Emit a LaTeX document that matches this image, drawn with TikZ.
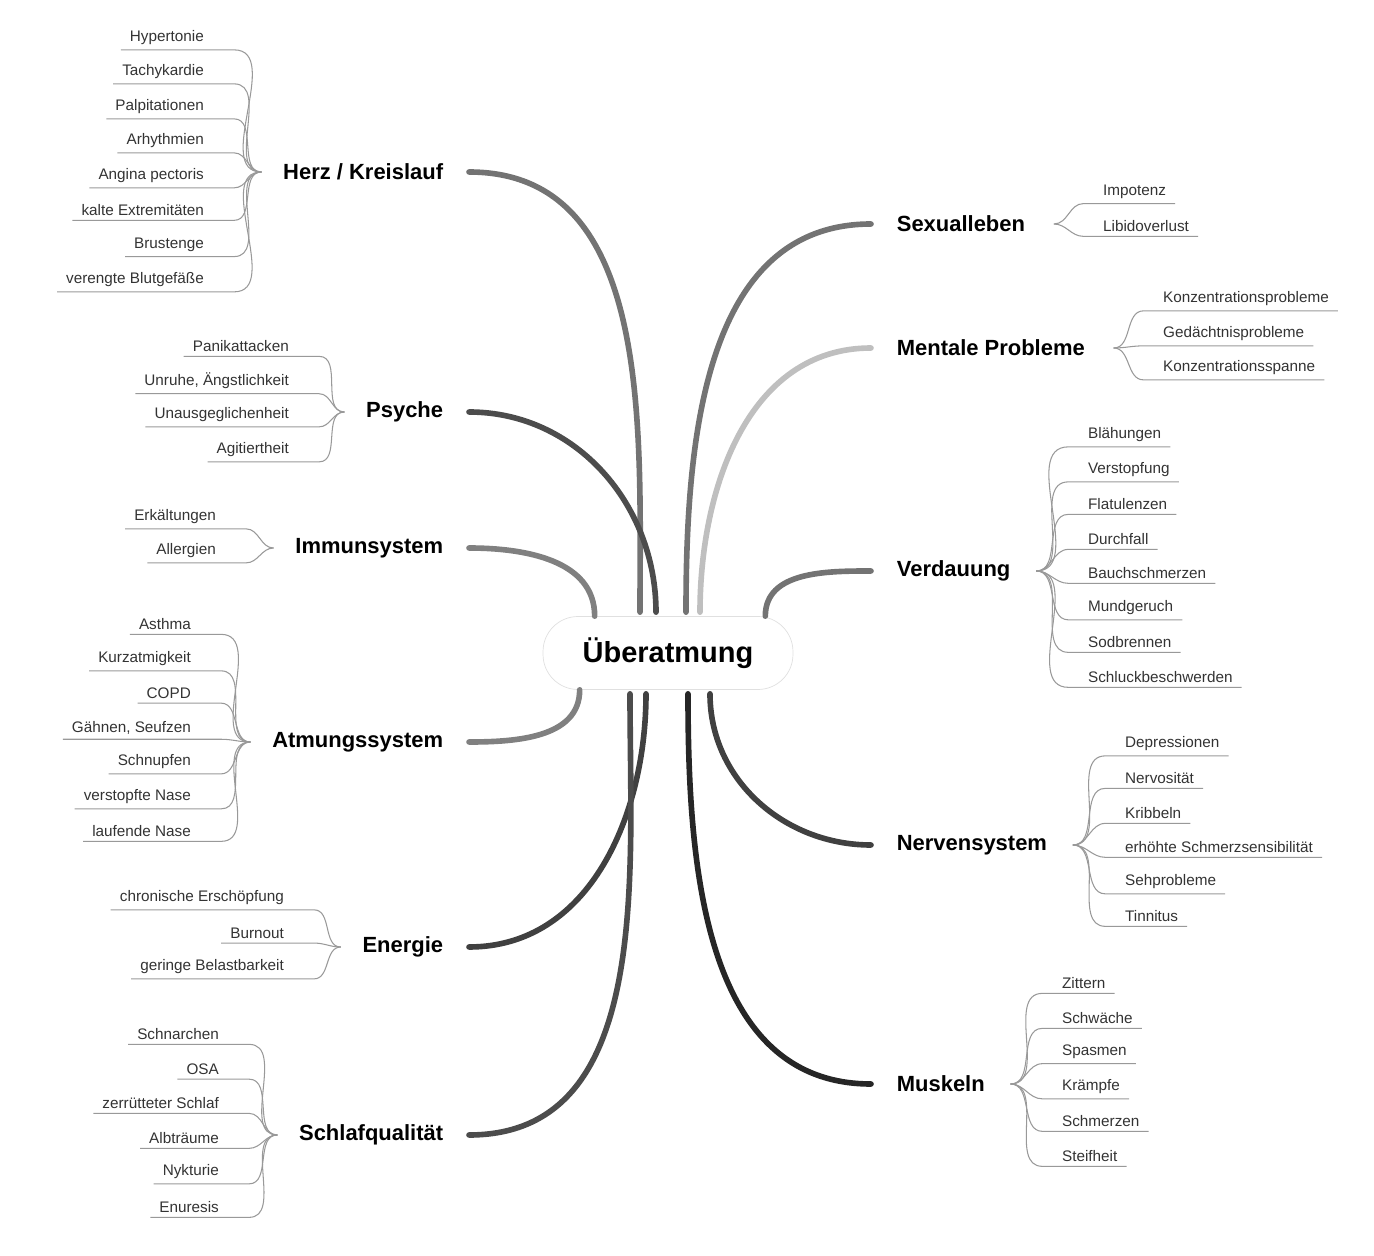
\documentclass[tikz,border=0pt]{standalone}
\usepackage{fontspec}
\setmainfont{Liberation Sans}
\usetikzlibrary{positioning,calc}

\tikzset{
  leaf/.style={font=\fontsize{8.7}{10}\selectfont, text=black!80, inner xsep=5pt, inner ysep=2.5pt},
  branch/.style={font=\fontsize{12.5}{14}\selectfont\bfseries, inner sep=2pt},
  twig/.style={draw=black!40, line width=0.6pt},
  limb/.style={line width=3.2pt, line cap=round},
}

\begin{document}
\begin{tikzpicture}[x=0.02cm,y=-0.02cm]
\useasboundingbox (0,0) rectangle (1374,1256);

\node[draw=black!12, fill=white, rounded corners=0.7cm, minimum width=5cm, minimum height=1.46cm,
      font=\fontsize{16.5}{18}\selectfont\bfseries] (ctr) at (668,653) {Überatmung};

% left side
\node[branch, anchor=east] (herz) at (447,172) {Herz / Kreislauf};
\node[branch, anchor=east] (psyche) at (447,412) {Psyche};
\node[branch, anchor=east] (immun) at (447,548) {Immunsystem};
\node[branch, anchor=east] (atem) at (447,742) {Atmungssystem};
\node[branch, anchor=east] (energie) at (447,947) {Energie};
\node[branch, anchor=east] (schlaf) at (447,1135) {Schlafqualität};

% right side
\node[branch, anchor=west] (sex) at (893,224) {Sexualleben};
\node[branch, anchor=west] (mental) at (893,348) {Mentale Probleme};
\node[branch, anchor=west] (verdau) at (893,571) {Verdauung};
\node[branch, anchor=west] (nerven) at (893,845) {Nervensystem};
\node[branch, anchor=west] (muskel) at (893,1084) {Muskeln};

% limbs
\draw[limb, black!55] ($(herz.east)+(22,0)$) to[out=0,in=90] ($(ctr.north)+(-28,-4)$);
\draw[limb, black!70] ($(psyche.east)+(22,0)$) to[out=0,in=90] ($(ctr.north)+(-12,-4)$);
\draw[limb, black!50] ($(immun.east)+(22,0)$) to[out=0,in=90] ($(ctr.north west)+(52,0)$);
\draw[limb, black!50] ($(atem.east)+(22,0)$) to[out=0,in=-90] ($(ctr.south west)+(37,0)$);
\draw[limb, black!75] ($(energie.east)+(22,0)$) to[out=0,in=-90] ($(ctr.south)+(-22,4)$);
\draw[limb, black!70] ($(schlaf.east)+(22,0)$) to[out=0,in=-90] ($(ctr.south)+(-38,4)$);
\draw[limb, black!55] ($(sex.west)+(-22,0)$) to[out=180,in=90] ($(ctr.north)+(18,-4)$);
\draw[limb, black!25] ($(mental.west)+(-22,0)$) to[out=180,in=90] ($(ctr.north)+(32,-4)$);
\draw[limb, black!55] ($(verdau.west)+(-22,0)$) to[out=180,in=90] ($(ctr.north east)+(-28,0)$);
\draw[limb, black!75] ($(nerven.west)+(-22,0)$) to[out=180,in=-90] ($(ctr.south)+(42,4)$);
\draw[limb, black!85] ($(muskel.west)+(-22,0)$) to[out=180,in=-90] ($(ctr.south)+(20,4)$);

% hubs
\coordinate (herzhub) at ($(herz.west)+(-18,0)$);
\coordinate (psychehub) at ($(psyche.west)+(-18,0)$);
\coordinate (immunhub) at ($(immun.west)+(-18,0)$);
\coordinate (atemhub) at ($(atem.west)+(-18,0)$);
\coordinate (energiehub) at ($(energie.west)+(-18,0)$);
\coordinate (schlafhub) at ($(schlaf.west)+(-18,0)$);
\coordinate (sexhub) at ($(sex.east)+(25,0)$);
\coordinate (mentalhub) at ($(mental.east)+(25,0)$);
\coordinate (verdauhub) at ($(verdau.east)+(22,0)$);
\coordinate (nervenhub) at ($(nerven.east)+(22,0)$);
\coordinate (muskelhub) at ($(muskel.east)+(22,0)$);

% leaves left
\foreach \y/\t [count=\i] in {38/Hypertonie, 72/Tachykardie, 107/Palpitationen, 141/Arhythmien,
    176/Angina pectoris, 210/kalte Extremitäten, 245/Brustenge, 280/verengte Blutgefäße} {
  \node[leaf, anchor=east] (herz\i) at (213,\y) {\t};
  \draw[twig] (herz\i.south west) -- ([xshift=12pt]herz\i.south east) to[out=0,in=180] (herzhub);
}
\foreach \y/\t [count=\i] in {346/Panikattacken, 381/{Unruhe, Ängstlichkeit}, 415/Unausgeglichenheit, 450/Agitiertheit} {
  \node[leaf, anchor=east] (psyche\i) at (298,\y) {\t};
  \draw[twig] (psyche\i.south west) -- ([xshift=12pt]psyche\i.south east) to[out=0,in=180] (psychehub);
}
\foreach \y/\t [count=\i] in {517/Erkältungen, 551/Allergien} {
  \node[leaf, anchor=east] (immun\i) at (225,\y) {\t};
  \draw[twig] (immun\i.south west) -- ([xshift=12pt]immun\i.south east) to[out=0,in=180] (immunhub);
}
\foreach \y/\t [count=\i] in {624/Asthma, 659/Kurzatmigkeit, 693/COPD, 728/{Gähnen, Seufzen},
    762/Schnupfen, 797/verstopfte Nase, 831/laufende Nase} {
  \node[leaf, anchor=east] (atem\i) at (200,\y) {\t};
  \draw[twig] (atem\i.south west) -- ([xshift=12pt]atem\i.south east) to[out=0,in=180] (atemhub);
}
\foreach \y/\t [count=\i] in {898/chronische Erschöpfung, 933/Burnout, 967/geringe Belastbarkeit} {
  \node[leaf, anchor=east] (energie\i) at (293,\y) {\t};
  \draw[twig] (energie\i.south west) -- ([xshift=12pt]energie\i.south east) to[out=0,in=180] (energiehub);
}
\foreach \y/\t [count=\i] in {1034/Schnarchen, 1069/OSA, 1103/zerrütteter Schlaf, 1138/Albträume,
    1172/Nykturie, 1207/Enuresis} {
  \node[leaf, anchor=east] (schlaf\i) at (228,\y) {\t};
  \draw[twig] (schlaf\i.south west) -- ([xshift=12pt]schlaf\i.south east) to[out=0,in=180] (schlafhub);
}

% leaves right
\foreach \y/\t [count=\i] in {192/Impotenz, 226/Libidoverlust} {
  \node[leaf, anchor=west] (sex\i) at (1094,\y) {\t};
  \draw[twig] (sex\i.south east) -- ([xshift=-6pt]sex\i.south west) to[out=180,in=0] (sexhub);
}
\foreach \y/\t [count=\i] in {299/Konzentrationsprobleme, 334/Gedächtnisprobleme, 368/Konzentrationsspanne} {
  \node[leaf, anchor=west] (mental\i) at (1154,\y) {\t};
  \draw[twig] (mental\i.south east) -- ([xshift=-6pt]mental\i.south west) to[out=180,in=0] (mentalhub);
}
\foreach \y/\t [count=\i] in {435/Blähungen, 470/Verstopfung, 504/Flatulenzen, 539/Durchfall,
    573/Bauchschmerzen, 608/Mundgeruch, 642/Sodbrennen, 677/Schluckbeschwerden} {
  \node[leaf, anchor=west] (verdau\i) at (1079,\y) {\t};
  \draw[twig] (verdau\i.south east) -- ([xshift=-6pt]verdau\i.south west) to[out=180,in=0] (verdauhub);
}
\foreach \y/\t [count=\i] in {744/Depressionen, 778/Nervosität, 813/Kribbeln, 847/erhöhte Schmerzsensibilität,
    882/Sehprobleme, 916/Tinnitus} {
  \node[leaf, anchor=west] (nerven\i) at (1116,\y) {\t};
  \draw[twig] (nerven\i.south east) -- ([xshift=-6pt]nerven\i.south west) to[out=180,in=0] (nervenhub);
}
\foreach \y/\t [count=\i] in {983/Zittern, 1018/Schwäche, 1052/Spasmen, 1087/Krämpfe,
    1121/Schmerzen, 1156/Steifheit} {
  \node[leaf, anchor=west] (muskel\i) at (1053,\y) {\t};
  \draw[twig] (muskel\i.south east) -- ([xshift=-6pt]muskel\i.south west) to[out=180,in=0] (muskelhub);
}
\end{tikzpicture}
\end{document}
